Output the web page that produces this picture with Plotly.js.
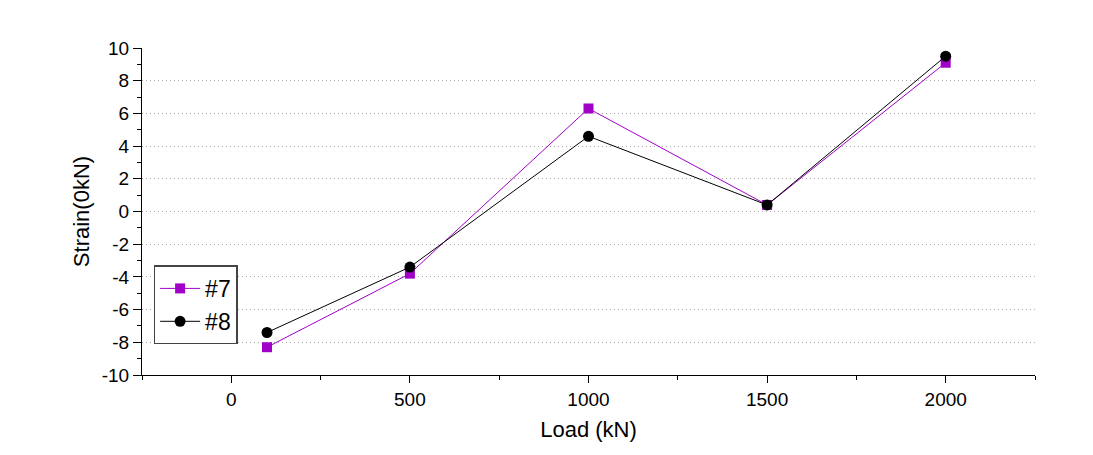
<!DOCTYPE html>
<html>
<head>
<meta charset="utf-8">
<script src="https://cdn.plot.ly/plotly-3.0.1.min.js"></script>
<style>body{margin:0;background:#fff;}#chart{width:1093px;height:455px;}</style>
</head>
<body>
<div id="chart"></div>
<script>
var loads = [100, 500, 1000, 1500, 2000];
var strain7 = [-8.3, -3.8, 6.3, 0.4, 9.1];
var strain8 = [-7.4, -3.4, 4.6, 0.4, 9.5];
var seriesNames = ['#7', '#8'];
var xTickVals = [0, 500, 1000, 1500, 2000];
var xTickText = ['0', '500', '1000', '1500', '2000'];
var yTickVals = [-10, -8, -6, -4, -2, 0, 2, 4, 6, 8, 10];
var yTickText = ['-10', '-8', '-6', '-4', '-2', '0', '2', '4', '6', '8', '10'];

var traces = [
  {x: loads, y: strain7, name: seriesNames[0], mode: 'lines+markers',
   line: {color: '#a000c8', width: 1}, marker: {symbol: 'square', size: 10, color: '#a000c8'}},
  {x: loads, y: strain8, name: seriesNames[1], mode: 'lines+markers',
   line: {color: '#000000', width: 1}, marker: {symbol: 'circle', size: 11, color: '#000000'}}
];

var fam = 'Arial, "Liberation Sans", sans-serif';
var layout = {
  width: 1093, height: 455,
  paper_bgcolor: '#fff', plot_bgcolor: '#fff',
  margin: {l: 142, r: 58, t: 48, b: 80},
  font: {family: fam, color: '#000'},
  showlegend: true,
  legend: {x: 0.013, y: 0.335, xanchor: 'left', yanchor: 'top',
           bordercolor: '#444', borderwidth: 1.5, bgcolor: '#fff',
           tracegroupgap: 0, itemwidth: 40,
           font: {size: 23, family: fam, color: '#000'}},
  xaxis: {
    range: [-250, 2250], tickvals: xTickVals, ticktext: xTickText,
    ticks: 'outside', ticklen: 7, tickwidth: 1, tickcolor: '#000',
    showline: true, linecolor: '#000', linewidth: 1, mirror: false,
    showgrid: false, zeroline: false,
    tickfont: {size: 19, family: fam, color: '#000'},
    minor: {dtick: 250, ticks: 'outside', ticklen: 4, tickcolor: '#000'},
    title: {text: 'Load (kN)', font: {size: 22, family: fam, color: '#000'}, standoff: 12}
  },
  yaxis: {
    range: [-10, 10], tickvals: yTickVals, ticktext: yTickText,
    ticks: 'outside', ticklen: 8, tickwidth: 1, tickcolor: '#000',
    showline: true, linecolor: '#000', linewidth: 1, mirror: false,
    showgrid: true, gridcolor: '#aaa', griddash: '1px,3px', gridwidth: 1,
    zeroline: false,
    tickfont: {size: 19, family: fam, color: '#000'},
    minor: {dtick: 1, ticks: 'outside', ticklen: 4, tickcolor: '#000', showgrid: false},
    title: {text: 'Strain(0kN)', font: {size: 22, family: fam, color: '#000'}, standoff: 6}
  }
};
Plotly.newPlot('chart', traces, layout, {displayModeBar: false, staticPlot: true});
</script>
</body>
</html>
